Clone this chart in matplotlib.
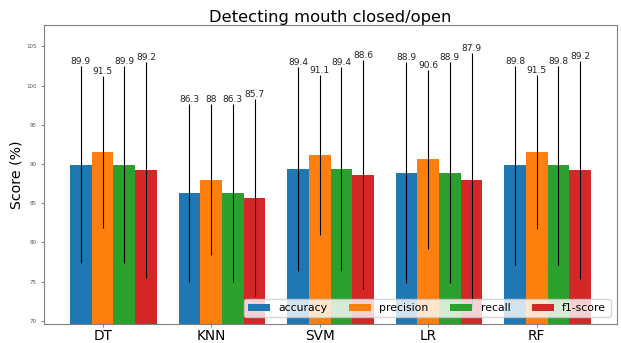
import numpy as np
import matplotlib.pyplot as plt

# Scores per classifier
models = ['DT', 'KNN', 'SVM', 'LR', 'RF']
accuracy = [89.9, 86.3, 89.4, 88.9, 89.8]
precision = [91.5, 88, 91.1, 90.6, 91.5]
recall = [89.9, 86.3, 89.4, 88.9, 89.8]
f1_score = [89.2, 85.7, 88.6, 87.9, 89.2]

# Standard deviations shown as error bars
accuracy_std = [12.6, 11.4, 13.0, 14.1, 12.65]
precision_std = [9.7, 9.6, 10.2, 11.4, 9.8]
recall_std = [12.6, 11.4, 13.0, 14.1, 12.65]
f1_std = [13.8, 12.6, 14.6, 16.3, 13.9]

x = np.arange(len(models))
width = 0.2

fig = plt.figure(figsize=(6.21, 3.43), dpi=100)
ax = fig.add_axes([0.0709, 0.0554, 0.9227, 0.8717])

err_kw = dict(ecolor='black', elinewidth=0.8, capsize=0)
b1 = ax.bar(x - width, accuracy, width, yerr=accuracy_std, label='accuracy', error_kw=err_kw)
b2 = ax.bar(x, precision, width, yerr=precision_std, label='precision', error_kw=err_kw)
b3 = ax.bar(x + width, recall, width, yerr=recall_std, label='recall', error_kw=err_kw)
b4 = ax.bar(x + 2 * width, f1_score, width, yerr=f1_std, label='f1-score', error_kw=err_kw)

for b in (b1, b2, b3, b4):
    ax.bar_label(b, fontsize=6.5, color='#222222')

ax.set_ylim(69.58, 107.72)
ax.set_xticks(x)
ax.set_xticklabels(models, fontsize=9.8)
ax.tick_params(axis='y', labelsize=4, length=2, width=0.5, colors='#555555')
ax.tick_params(axis='x', length=2, width=0.5, color='#555555', pad=1.5)
ax.set_ylabel('Score (%)', fontsize=10.2, labelpad=2)
ax.set_title('Detecting mouth closed/open', fontsize=11.8, pad=1.5)
for s in ax.spines.values():
    s.set_color('#808080')
    s.set_linewidth(0.8)

ax.legend(loc='lower right', ncol=4, fontsize=7.8, borderaxespad=0.6)

plt.savefig('out.png', dpi=100)
